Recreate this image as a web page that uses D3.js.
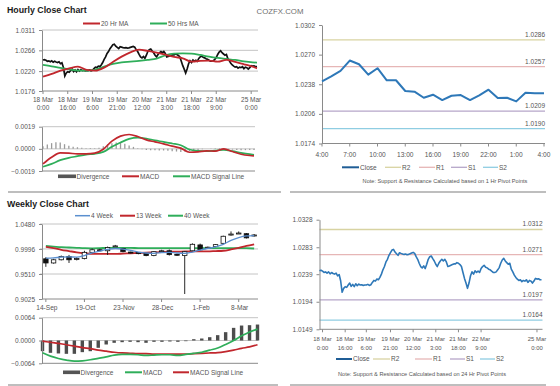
<!DOCTYPE html>
<html><head><meta charset="utf-8">
<script src="https://cdn.jsdelivr.net/npm/d3@7"></script>
<style>body{margin:0;background:#fff}</style>
</head><body>
<svg id="c" width="560" height="386"></svg>
<script>
// ---------------- DATA ----------------
// Hourly close, 18 Mar 0:00 -> 25 Mar
const hourClose = [
1.02445,1.02455,1.02439,1.02418,1.02428,1.02407,1.02428,1.02396,1.02418,1.02402,
1.02391,1.02407,1.02364,1.02385,1.02283,1.02094,1.02159,1.02186,1.02175,1.02213,
1.02245,1.02191,1.02224,1.02186,1.02234,1.02202,1.02229,1.02213,1.02218,1.02207,
1.02213,1.02213,1.02224,1.02207,1.02218,1.02256,1.02288,1.02277,1.02310,1.02299,
1.02337,1.02391,1.02461,1.02515,1.02590,1.02633,1.02698,1.02741,1.02784,1.02795,
1.02752,1.02725,1.02698,1.02741,1.02730,1.02720,1.02714,1.02720,1.02709,1.02714,
1.02725,1.02736,1.02746,1.02730,1.02676,1.02633,1.02569,1.02515,1.02493,1.02525,
1.02482,1.02552,1.02633,1.02676,1.02687,1.02644,1.02606,1.02552,1.02515,1.02569,
1.02606,1.02633,1.02606,1.02633,1.02590,1.02515,1.02525,1.02536,1.02547,1.02558,
1.02558,1.02579,1.02569,1.02547,1.02515,1.02418,1.02321,1.02245,1.02159,1.02245,
1.02364,1.02428,1.02391,1.02445,1.02418,1.02439,1.02418,1.02482,1.02515,1.02536,
1.02504,1.02493,1.02472,1.02461,1.02439,1.02418,1.02418,1.02428,1.02461,1.02498,
1.02569,1.02622,1.02649,1.02606,1.02579,1.02552,1.02569,1.02472,1.02428,1.02375,
1.02337,1.02310,1.02288,1.02299,1.02267,1.02288,1.02277,1.02299,1.02256,1.02288,
1.02277,1.02245,1.02277,1.02321,1.02310,1.02315,1.02299,1.02299];
const hourLabels = [["18 Mar","0:00"],["18 Mar","16:00"],["19 Mar","6:00"],["19 Mar","21:00"],["20 Mar","12:00"],["21 Mar","3:00"],["21 Mar","18:00"],["22 Mar","9:00"],["25 Mar","0:00"]];
const hourLabelIdxTop = [0,17,34,51,68,85,102,119,143];
const hourLabelIdxBottom = [2,17,31,47,62,77,92,107,144];
const hourPriceTicks = [1.0311,1.0266,1.0220,1.0176];

// Moving averages sampled on hour index
const maIdx = [0,6,12,18,24,30,36,42,48,54,60,66,72,78,84,90,96,102,108,114,120,126,132,138,144,147];
const ma20 = [1.02078,1.02137,1.02211,1.02262,1.02299,1.02226,1.02211,1.02277,1.02402,1.02520,1.02616,1.02675,1.02646,1.02609,1.02565,1.02513,1.02484,1.02410,1.02425,1.02432,1.02410,1.02447,1.02402,1.02351,1.02299,1.02262];
const ma50 = [1.02336,1.02307,1.02270,1.02240,1.02211,1.02211,1.02233,1.02299,1.02358,1.02395,1.02410,1.02425,1.02447,1.02476,1.02550,1.02587,1.02594,1.02587,1.02557,1.02520,1.02491,1.02469,1.02447,1.02417,1.02395,1.02388];

// Hourly MACD
const hMacd   = [-0.00129,-0.00072,-0.00034,-0.00037,-0.00043,-0.00043,-0.00037,-0.00003,0.00066,0.00109,0.00123,0.00106,0.00077,0.00060,0.00043,0.00023,0.00006,-0.00029,-0.00026,-0.00017,-0.00020,0.00000,-0.00023,-0.00046,-0.00057,-0.00060];
const hSignal = [-0.00154,-0.00129,-0.00097,-0.00077,-0.00063,-0.00049,-0.00043,-0.00026,0.00017,0.00054,0.00086,0.00097,0.00089,0.00072,0.00060,0.00046,0.00031,-0.00006,-0.00017,-0.00020,-0.00014,-0.00009,-0.00020,-0.00034,-0.00046,-0.00051];
const divIdx = d3.range(0,148,3);
const hDiv = [0.00023,0.00037,0.00049,0.00057,0.00054,0.00040,0.00026,0.00017,0.00014,0.00009,
0.00006,0.00006,0.00006,0.00009,0.00023,0.00040,0.00049,0.00054,0.00051,0.00043,
0.00029,0.00017,0.00006,-0.00003,-0.00009,-0.00011,-0.00011,-0.00014,-0.00014,-0.00017,
-0.00020,-0.00023,-0.00026,-0.00026,-0.00020,-0.00014,-0.00009,-0.00003,0.00000,0.00003,
0.00006,0.00006,0.00003,-0.00003,-0.00006,-0.00009,-0.00011,-0.00011,-0.00009,-0.00009];
const hMacdTicks = [0.0019,0.0000,-0.0019];

// 24-hour pivot chart
const dayLabels = ["4:00","7:00","10:00","13:00","16:00","19:00","22:00","1:00","4:00"];
const dayClose = [1.02412,1.02466,1.02524,1.02636,1.02596,1.02484,1.02553,1.02423,1.02423,1.02307,
1.02300,1.02234,1.02267,1.02209,1.02256,1.02263,1.02209,1.02260,1.02321,1.02231,
1.02234,1.02195,1.02289,1.02282,1.02282];
const dayPivots = [1.0286,1.0257,1.0209,1.0190]; // R2,R1,S1,S2
const dayTicks = [1.0302,1.0270,1.0238,1.0206,1.0174];
const hourPivots = [1.0312,1.0271,1.0197,1.0164];
const hourRightTicks = [1.0328,1.0283,1.0239,1.0194,1.0149];
const pivotNames = ["R2","R1","S1","S2"];

// Weekly candles
const weekLabels = ["14-Sep","19-Oct","23-Nov","28-Dec","1-Feb","8-Mar"];
const weekLabelIdx = [0,5,10,15,20,25];
const wOpen  = [0.9805,0.9724,0.9786,0.9849,0.9805,0.9811,0.9930,0.9980,0.9961,1.0049,1.0005,0.9936,0.9930,0.9911,0.9868,0.9949,0.9961,0.9893,0.9868,0.9961,1.0074,1.0017,1.0042,1.0105,1.0267,1.0298,1.0292,1.0249];
const wHigh  = [0.9836,0.9805,0.9868,0.9880,0.9836,0.9961,1.0005,0.9999,1.0042,1.0074,1.0017,0.9943,0.9936,0.9918,0.9955,0.9980,0.9986,0.9905,0.9955,1.0105,1.0099,1.0042,1.0092,1.0254,1.0336,1.0336,1.0305,1.0286];
const wLow   = [0.9649,0.9711,0.9774,0.9724,0.9774,0.9793,0.9911,0.9949,0.9880,1.0036,0.9930,0.9911,0.9893,0.9855,0.9855,0.9936,0.9868,0.9861,0.9122,0.9949,0.9968,1.0005,1.0030,1.0092,1.0254,1.0286,1.0199,1.0236];
const wClose = [0.9724,0.9786,0.9849,0.9786,0.9811,0.9930,0.9980,0.9961,1.0024,1.0055,0.9943,0.9924,0.9905,0.9868,0.9943,0.9961,0.9886,0.9874,0.9943,1.0086,0.9980,1.0030,1.0080,1.0242,1.0285,1.0305,1.0211,1.0267];
const ma4w  = [0.98175,0.98238,0.98363,0.98425,0.98363,0.98675,0.99175,0.99550,0.99863,1.00050,0.99925,0.99675,0.99363,0.99175,0.99113,0.99238,0.99300,0.99175,0.99113,0.99363,0.99738,1.00050,1.00363,1.00863,1.01613,1.02175,1.02488,1.02550];
const ma13w = [1.00363,1.00113,0.99800,0.99550,0.99300,0.99113,0.98988,0.98988,0.98988,0.98988,0.99050,0.99113,0.99175,0.99238,0.99300,0.99363,0.99425,0.99425,0.99488,0.99488,0.99488,0.99488,0.99550,0.99613,0.99863,1.00175,1.00550,1.00863];
const ma40w = [1.00550,1.00425,1.00300,1.00238,1.00175,1.00113,1.00080,1.00113,1.00175,1.00175,1.00175,1.00175,1.00113,1.00113,1.00113,1.00113,1.00113,1.00113,1.00113,1.00113,1.00113,1.00113,1.00113,1.00113,1.00113,1.00113,1.00113,1.00050];
const weekTicks = [1.0480,0.9996,0.9510,0.9025];

// Weekly MACD
const wDiv = [-0.00300,-0.00346,-0.00364,-0.00374,-0.00374,-0.00327,-0.00300,-0.00205,-0.00112,-0.00065,-0.00047,-0.00037,-0.00047,-0.00065,-0.00037,-0.00037,-0.00028,-0.00037,-0.00019,0.00037,0.00056,0.00093,0.00150,0.00234,0.00355,0.00420,0.00430,0.00448];
const wMacd = [-0.00346,-0.00440,-0.00504,-0.00550,-0.00580,-0.00570,-0.00540,-0.00500,-0.00460,-0.00410,-0.00390,-0.00390,-0.00400,-0.00420,-0.00410,-0.00400,-0.00400,-0.00420,-0.00390,-0.00360,-0.00330,-0.00270,-0.00210,-0.00110,0.00000,0.00130,0.00240,0.00320];
const wSignal = [-0.00020,-0.00050,-0.00080,-0.00120,-0.00160,-0.00200,-0.00230,-0.00270,-0.00300,-0.00330,-0.00350,-0.00360,-0.00370,-0.00370,-0.00380,-0.00380,-0.00380,-0.00380,-0.00380,-0.00370,-0.00360,-0.00350,-0.00340,-0.00310,-0.00270,-0.00220,-0.00180,-0.00120];
const wMacdTicks = [0.0064,0.0000,-0.0064];

// ---------------- STYLE ----------------
const FONT = "'Liberation Sans', Arial, Helvetica, sans-serif";
const RED = "#c1272d", GREEN = "#2fae5a", BLUE4 = "#5b8fcf", CLOSE = "#2e78b8", CLOSE_LEG = "#1f5d96";
const PIV = ["#d8d3a2","#e6b6b6","#b6a6c9","#8fcde2"];
const GRID = "#c4c4c4", AX = "#8a8a8a", TXT = "#555";

const svg = d3.select("#c");
const fmt = d3.format(".4f");

function txt(x, y, s, o = {}) {
  return svg.append("text").attr("x", x).attr("y", y).text(s)
    .attr("font-family", FONT).attr("font-size", o.size || 6.5)
    .attr("fill", o.fill || TXT).attr("font-weight", o.weight || "normal")
    .attr("text-anchor", o.anchor || "start");
}
function hline(x1, x2, y, color, w) {
  svg.append("line").attr("x1", x1).attr("x2", x2).attr("y1", y).attr("y2", y)
    .attr("stroke", color).attr("stroke-width", w || 1);
}
function yAxis(scale, x, ticks) {
  const g = svg.append("g").attr("transform", `translate(${x},0)`)
    .call(d3.axisLeft(scale).tickValues(ticks).tickFormat(fmt).tickSize(3).tickSizeOuter(0).tickPadding(4));
  g.select(".domain").attr("stroke", AX);
  g.selectAll(".tick line").attr("stroke", AX);
  g.selectAll("text").attr("font-family", FONT).attr("font-size", 6.5).attr("fill", TXT);
}
function xTicks(scale, y, idxs, labels, y1, y2, size) {
  idxs.forEach((k, i) => {
    const x = scale(k);
    svg.append("line").attr("x1", x).attr("x2", x).attr("y1", y).attr("y2", y + 3).attr("stroke", AX);
    const lab = labels[i];
    if (Array.isArray(lab)) {
      txt(x, y1, lab[0], {anchor: "middle", size: size});
      txt(x, y2, lab[1], {anchor: "middle", size: size});
    } else txt(x, y1, lab, {anchor: "middle", size: size});
  });
}
function legLine(x1, x2, y, color, w, label) {
  hline(x1, x2, y, color, w);
  txt(x2 + 1, y + 2.3, label, {size: 6.5});
}
function legBar(x1, x2, y, label) {
  svg.append("rect").attr("x", x1).attr("y", y - 1.8).attr("width", x2 - x1).attr("height", 3.6).attr("fill", "#555");
  txt(x2 + 0.5, y + 2.3, label, {size: 6.5});
}

// ---------------- TITLES / SEPARATORS ----------------
txt(7, 13, "Hourly Close Chart", {size: 8.8, weight: "bold", fill: "#1a1a1a"});
txt(280, 13.5, "COZFX.COM", {size: 7.8, fill: "#6e6e6e", anchor: "middle"});
txt(7, 207, "Weekly Close Chart", {size: 8.8, weight: "bold", fill: "#1a1a1a"});
hline(8, 281, 192, "#a8a8a8", 1.5);
hline(290, 546, 192, "#a8a8a8", 1.5);
hline(8, 278, 385, "#a8a8a8", 1.5);
hline(290, 546, 385, "#a8a8a8", 1.5);

// ---------------- TOP-LEFT: hourly price ----------------
{
  const x = d3.scaleLinear().domain([0, hourClose.length - 1]).range([43, 257]);
  const y = d3.scaleLinear().domain([1.0176, 1.0311]).range([91, 30]);
  hourPriceTicks.slice(0, 3).forEach(v => hline(42, 258, y(v), GRID, 1));
  hline(42, 258, 91, AX, 1);
  yAxis(y, 42, hourPriceTicks);
  xTicks(x, 91, hourLabelIdxTop, hourLabels, 101.6, 109.6, 6.5);
  svg.append("path").datum(hourClose).attr("fill", "none").attr("stroke", "#111").attr("stroke-width", 1.7)
    .attr("d", d3.line().x((d, i) => x(i)).y(d => y(d)));
  const ml = d3.line().x((d, i) => x(maIdx[i])).y(d => y(d)).curve(d3.curveMonotoneX);
  svg.append("path").datum(ma50).attr("fill", "none").attr("stroke", GREEN).attr("stroke-width", 1.8).attr("d", ml);
  svg.append("path").datum(ma20).attr("fill", "none").attr("stroke", RED).attr("stroke-width", 1.8).attr("d", ml);
  legLine(83, 100, 23.5, RED, 2, "20 Hr MA");
  legLine(150, 167, 23.5, GREEN, 2, "50 Hrs MA");
}
// ---------------- TOP-LEFT: hourly MACD ----------------
{
  const x = d3.scaleLinear().domain([0, hourClose.length - 1]).range([43, 254]);
  const y = d3.scaleLinear().domain([-0.0019, 0.0019]).range([171, 126.7]);
  hline(42, 255, y(0.0019), GRID, 1);
  hline(42, 255, y(0), GRID, 1);
  hline(42, 255, 171, AX, 1);
  svg.append("g").selectAll("line").data(hDiv).join("line")
    .attr("x1", (d, i) => x(divIdx[i])).attr("x2", (d, i) => x(divIdx[i]))
    .attr("y1", y(0)).attr("y2", d => y(d)).attr("stroke", "#9a9a9a").attr("stroke-width", 1.3);
  yAxis(y, 42, hMacdTicks);
  const ml = d3.line().x((d, i) => x(maIdx[i])).y(d => y(d)).curve(d3.curveMonotoneX);
  svg.append("path").datum(hSignal).attr("fill", "none").attr("stroke", GREEN).attr("stroke-width", 1.7).attr("d", ml);
  svg.append("path").datum(hMacd).attr("fill", "none").attr("stroke", RED).attr("stroke-width", 1.7).attr("d", ml);
  legBar(58, 76, 176.3, "Divergence");
  legLine(122, 139, 176.3, RED, 2, "MACD");
  legLine(173, 190, 176.3, GREEN, 2, "MACD Signal Line");
}

// ---------------- pivot chart helper ----------------
function pivotChart(o) {
  const x = d3.scaleLinear().domain([0, o.data.length - 1]).range([o.x0, o.x1]);
  const y = d3.scaleLinear().domain(o.domain).range([o.yb, o.yt]);
  o.pivots.forEach((v, i) => {
    hline(o.x0, o.x1 + 1, y(v), PIV[i], 1.3);
    txt(o.x1 + 1, y(v) - 3, fmt(v), {anchor: "end", size: 6.5});
  });
  hline(o.x0, o.x1 + 1, o.yb, AX, 1);
  yAxis(y, o.x0, o.ticks);
  xTicks(x, o.yb, o.labIdx, o.labels, o.ly1, o.ly2, o.lsize);
  svg.append("path").datum(o.data).attr("fill", "none").attr("stroke", CLOSE).attr("stroke-width", o.w)
    .attr("stroke-linejoin", "round").attr("d", d3.line().x((d, i) => x(i)).y(d => y(d)));
  // legend
  const L = o.leg;
  legLine(L[0][0], L[0][1], o.legY, CLOSE_LEG, 2, "Close");
  pivotNames.forEach((n, i) => legLine(L[i + 1][0], L[i + 1][1], o.legY, PIV[i], 1.3, n));
  txt(o.noteX, o.noteY, o.note, {size: 5.6, anchor: "middle"});
}

pivotChart({
  data: dayClose, x0: 322, x1: 544, yb: 143.5, yt: 25, domain: [1.0174, 1.0302],
  pivots: dayPivots, ticks: dayTicks, labIdx: d3.range(0, 25, 3), labels: dayLabels,
  ly1: 157.3, ly2: 0, w: 2, lsize: 6.6,
  leg: [[342, 359], [385, 401], [419, 435], [451, 467], [483, 498]], legY: 167.3,
  note: "Note: Support & Resistance Calculated based on 1 Hr Pivot Points", noteX: 445, noteY: 182.8
});

pivotChart({
  data: hourClose, x0: 319.5, x1: 541.5, yb: 329.3, yt: 219.7, domain: [1.0149, 1.0328],
  pivots: hourPivots, ticks: hourRightTicks, labIdx: hourLabelIdxBottom, labels: hourLabels,
  ly1: 340.6, ly2: 349.6, w: 1.6, lsize: 5.9,
  leg: [[336, 352], [373, 390], [415, 432], [450, 465], [480, 495]], legY: 359,
  note: "Note: Support & Resistance Calculated based on 24 Hr Pivot Points", noteX: 422, noteY: 376.2
});

// ---------------- BOTTOM-LEFT: weekly candles ----------------
{
  const x = d3.scaleBand().domain(d3.range(wClose.length)).range([42, 258]).paddingInner(0.42).paddingOuter(0.21);
  const y = d3.scaleLinear().domain([0.9025, 1.0480]).range([299, 224]);
  weekTicks.slice(0, 3).forEach(v => hline(40, 258, y(v), GRID, 1));
  hline(42, 258, 299, AX, 1);
  yAxis(y, 42, weekTicks);
  const cx = i => x(i) + x.bandwidth() / 2;
  weekLabelIdx.forEach((k, i) => {
    svg.append("line").attr("x1", cx(k)).attr("x2", cx(k)).attr("y1", 299).attr("y2", 302).attr("stroke", AX);
    txt(cx(k) + 1, 310, weekLabels[i], {anchor: "middle", size: 6.6});
  });
  const ml = d3.line().x((d, i) => cx(i)).y(d => y(d)).curve(d3.curveMonotoneX);
  svg.append("path").datum(ma40w).attr("fill", "none").attr("stroke", GREEN).attr("stroke-width", 1.8).attr("d", ml);
  svg.append("path").datum(ma13w).attr("fill", "none").attr("stroke", RED).attr("stroke-width", 1.8).attr("d", ml);
  const g = svg.append("g");
  wClose.forEach((c, i) => {
    const o = wOpen[i];
    g.append("line").attr("x1", cx(i)).attr("x2", cx(i)).attr("y1", y(wHigh[i])).attr("y2", y(wLow[i]))
      .attr("stroke", "#111").attr("stroke-width", 0.9);
    const top = y(Math.max(o, c)), h = Math.max(1, Math.abs(y(o) - y(c)));
    g.append("rect").attr("x", x(i)).attr("y", top).attr("width", x.bandwidth()).attr("height", h)
      .attr("fill", c >= o ? "#fff" : "#111").attr("stroke", "#111").attr("stroke-width", 0.8);
  });
  svg.append("path").datum(ma4w).attr("fill", "none").attr("stroke", BLUE4).attr("stroke-width", 1.3).attr("d", ml);
  legLine(75, 90, 215.7, BLUE4, 1.5, "4 Week");
  legLine(120, 135, 215.7, RED, 2, "13 Week");
  legLine(168, 183, 215.7, GREEN, 2, "40 Week");
}
// ---------------- BOTTOM-LEFT: weekly MACD ----------------
{
  const x = d3.scaleLinear().domain([0, wDiv.length - 1]).range([42.5, 257.5]);
  const y = d3.scaleLinear().domain([-0.0064, 0.0064]).range([363.3, 317.7]);
  hline(42, 258, y(0.0064), GRID, 1);
  hline(42, 258, y(0), GRID, 1);
  hline(42, 258, 363.3, AX, 1);
  svg.append("g").selectAll("rect").data(wDiv).join("rect")
    .attr("x", (d, i) => x(i) - 1.7).attr("width", 3.4)
    .attr("y", d => Math.min(y(0), y(d))).attr("height", d => Math.abs(y(d) - y(0)))
    .attr("fill", "#4d4d4d");
  yAxis(y, 42, wMacdTicks);
  const l = d3.line().x((d, i) => x(i)).y(d => y(d)).curve(d3.curveMonotoneX);
  svg.append("path").datum(wSignal).attr("fill", "none").attr("stroke", RED).attr("stroke-width", 1.7).attr("d", l);
  svg.append("path").datum(wMacd).attr("fill", "none").attr("stroke", GREEN).attr("stroke-width", 1.7).attr("d", l);
  legBar(63, 80, 372.3, "Divergence");
  legLine(125, 142, 372.3, GREEN, 2, "MACD");
  legLine(173, 189, 372.3, RED, 2, "MACD Signal Line");
}
</script>
</body></html>
